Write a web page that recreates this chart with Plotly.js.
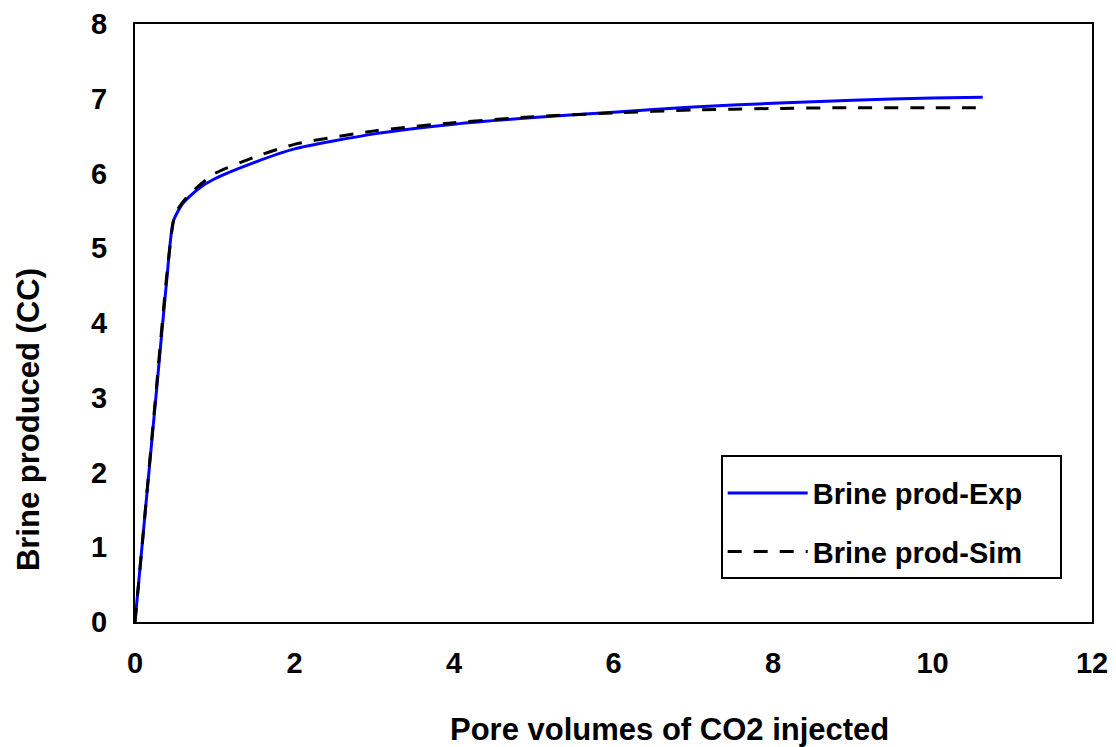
<!DOCTYPE html>
<html><head><meta charset="utf-8">
<script src="https://cdn.plot.ly/plotly-3.0.1.min.js"></script>
<style>html,body{margin:0;padding:0;background:#fff}#chart{width:1116px;height:747px}</style>
</head><body><div id="chart"></div>
<script>
const expX = [0, 0.1, 0.27, 0.4, 0.48, 0.6, 0.8, 1.0, 1.5, 2.0, 3.0, 4.0, 5.0, 6.0, 7.0, 8.0, 9.0, 10.0, 10.63];
const expY = [0, 1.15, 3.1, 4.6, 5.36, 5.6, 5.8, 5.93, 6.15, 6.33, 6.53, 6.66, 6.75, 6.82, 6.89, 6.94, 6.98, 7.01, 7.02];
const simX = [0, 0.1, 0.27, 0.4, 0.5, 0.6, 0.7, 0.85, 1.0, 1.5, 2.0, 3.0, 4.0, 5.0, 6.0, 7.0, 8.0, 9.0, 10.0, 10.63];
const simY = [0, 1.15, 3.15, 4.65, 5.45, 5.62, 5.74, 5.88, 6.0, 6.22, 6.39, 6.57, 6.68, 6.76, 6.81, 6.85, 6.87, 6.88, 6.88, 6.88];
const xTicks = [0, 2, 4, 6, 8, 10, 12];
const yTicks = [0, 1, 2, 3, 4, 5, 6, 7, 8];
const xTitle = 'Pore volumes of CO2 injected';
const yTitle = 'Brine produced (CC)';

const fam = 'Liberation Sans, Arial, sans-serif';
const traces = [
  {x: expX, y: expY, mode: 'lines', name: '<b>Brine prod-Exp</b>&nbsp;&nbsp;&nbsp;&nbsp;', legendgroup: 'a',
   line: {color: '#0000ff', width: 3, shape: 'spline', smoothing: 0.6}},
  {x: simX, y: simY, mode: 'lines', name: '<b>Brine prod-Sim</b>', legendgroup: 'b',
   line: {color: '#000', width: 3, dash: '14px,12px', shape: 'spline', smoothing: 0.6}}
];
const layout = {
  width: 1116, height: 747,
  margin: {l: 135, r: 24, t: 24, b: 125},
  paper_bgcolor: '#fff', plot_bgcolor: '#fff',
  font: {family: fam, size: 29, color: '#000'},
  showlegend: true,
  legend: {x: 0.612, y: 0.279, xanchor: 'left', yanchor: 'top', bordercolor: '#000', borderwidth: 2, bgcolor: '#fff',
           font: {family: fam, size: 29, color: '#000'}, tracegroupgap: 18, itemwidth: 80,
           title: {text: '&nbsp;', font: {family: fam, size: 8}}},
  xaxis: {range: [0, 12], tickvals: xTicks, ticktext: xTicks.map(v => '<b>' + v + '</b>'), showgrid: false, zeroline: false,
          showline: true, linecolor: '#000', linewidth: 2, mirror: true, ticks: 'outside', ticklen: 14, tickcolor: 'rgba(0,0,0,0)',
          tickfont: {family: fam, size: 29, color: '#000'}, automargin: false},
  yaxis: {range: [0, 8], tickvals: yTicks, ticktext: yTicks.map(v => '<b>' + v + '</b>'), showgrid: false, zeroline: false,
          showline: true, linecolor: '#000', linewidth: 2, mirror: true, ticks: 'outside', ticklen: 20, tickcolor: 'rgba(0,0,0,0)',
          tickfont: {family: fam, size: 29, color: '#000'}, automargin: false},
  annotations: [
    {text: '<b>' + xTitle + '</b>', xref: 'paper', yref: 'paper', x: 0.558, y: -0.179, xanchor: 'center', yanchor: 'middle',
     showarrow: false, font: {family: fam, size: 31, color: '#000'}},
    {text: '<b>' + yTitle + '</b>', xref: 'paper', yref: 'paper', x: -0.112, y: 0.339, xanchor: 'center', yanchor: 'middle',
     textangle: -90, showarrow: false, font: {family: fam, size: 31, color: '#000'}}
  ]
};
Plotly.newPlot('chart', traces, layout, {staticPlot: true});
</script></body></html>
